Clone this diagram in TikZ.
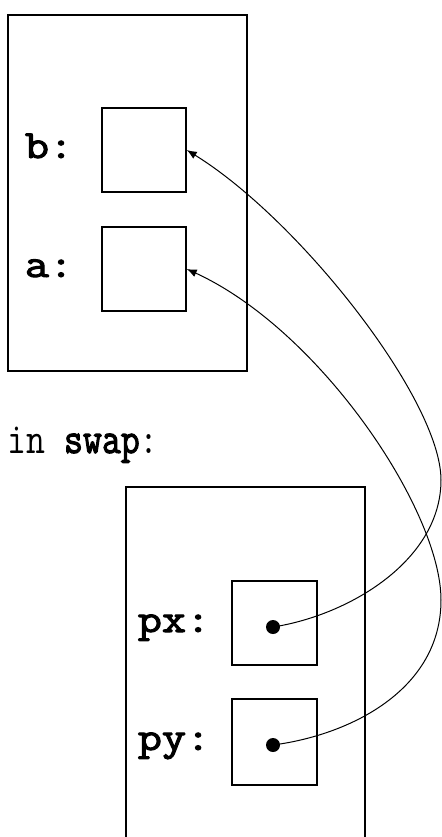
\documentclass[tikz,border=0pt]{standalone}
\usepackage{fontspec}
\setmonofont{Latin Modern Mono}[AutoFakeBold=2.5]
\usetikzlibrary{arrows.meta}
\begin{document}
\begin{tikzpicture}[x=0.5pt,y=-0.5pt,
  frame/.style={draw,line width=0.75pt,inner sep=0pt,minimum width=119.5pt,minimum height=178pt},
  cell/.style={draw,line width=0.75pt,inner sep=0pt,minimum width=42pt,minimum height=42pt},
  lbl/.style={inner sep=0pt,xscale=1.17,font=\fontsize{20}{24}\selectfont\ttfamily\bfseries},
  dotm/.style={circle,fill,inner sep=0pt,minimum size=7pt},
  ptr/.style={line width=0.5pt,-{Latex[length=5pt,width=4pt]}}]
\useasboundingbox (0,0) rectangle (442,837);
% top frame
\node[frame] (main) at (127.5,193) {};
\node[cell] (boxb) at (144,150) {};
\node[cell] (boxa) at (144,269) {};
\node[lbl,anchor=base] (lb) at (49,158) {b:};
\node[lbl,anchor=base] (la) at (49,277) {a:};
% caption
\node[inner sep=0pt,anchor=base west,xscale=0.835,font=\fontsize{22}{26}\selectfont\ttfamily] (cap) at (7,453) {in \textbf{swap}:};
% bottom frame (open at bottom)
\coordinate (f1) at (126,845);
\coordinate (f2) at (126,487);
\coordinate (f3) at (365,487);
\coordinate (f4) at (365,845);
\draw[line width=0.75pt] (f1) -- (f2) -- (f3) -- (f4);
\node[cell,minimum width=42.5pt] (boxpx) at (274.5,623) {};
\node[cell,minimum width=42.5pt,minimum height=43pt] (boxpy) at (274.5,742) {};
\node[lbl,anchor=base] (lpx) at (174,632) {px:};
\node[lbl,anchor=base] (lpy) at (174,750) {py:};
\node[dotm] (dpx) at (273,627) {};
\node[dotm] (dpy) at (273,745) {};
% pointers
\coordinate (r1) at (441,480);
\coordinate (r2) at (441,600);
\draw[ptr] (dpx.center) .. controls (350,615) and (441,560) .. (r1)
  .. controls (441,400) and (300,220) .. (boxb.east);
\draw[ptr] (dpy.center) .. controls (350,735) and (441,690) .. (r2)
  .. controls (441,510) and (320,330) .. (boxa.east);
\end{tikzpicture}
\end{document}
